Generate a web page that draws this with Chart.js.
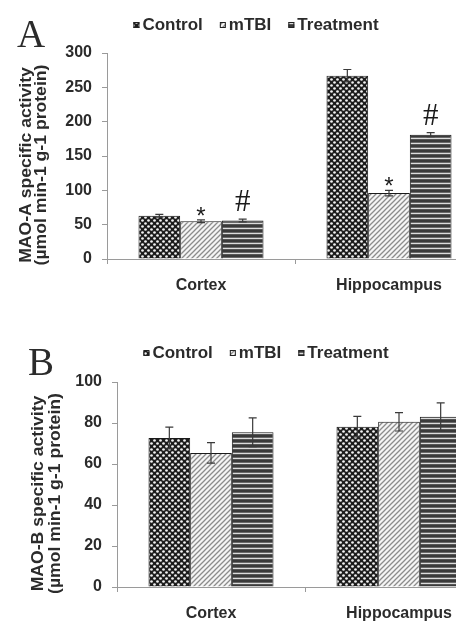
<!DOCTYPE html>
<html>
<head>
<meta charset="utf-8">
<title>MAO-A and MAO-B specific activity</title>
<style>
  html, body { margin: 0; padding: 0; width: 456px; height: 621px; overflow: hidden; background: #fff; }
  canvas { position: absolute; left: 0; }
  #maoA { top: 0; }
  #maoB { top: 310px; }
</style>
<script src="https://cdn.jsdelivr.net/npm/chart.js@4.4.1/dist/chart.umd.min.js"></script>
</head>
<body>
<canvas id="maoA" width="500" height="310"></canvas>
<canvas id="maoB" width="510" height="311"></canvas>
<script>
// ---- data ----
const categories = ['Cortex', 'Hippocampus'];
const groups = ['Control', 'mTBI', 'Treatment'];

// Panel A: MAO-A specific activity (mean and SEM)
const maoAControl = [63, 267];
const maoAControlSem = [2, 9];
const maoAMtbi = [55, 96];
const maoAMtbiSem = [2, 4];
const maoATreatment = [56, 181];
const maoATreatmentSem = [2, 3];
const maoAMtbiMarks = ['*', '*'];
const maoATreatmentMarks = ['#', '#'];
const maoATicks = { min: 0, max: 300, step: 50 };
const maoATitle = ['MAO-A specific activity', '(µmol min-1 g-1 protein)'];

// Panel B: MAO-B specific activity (mean and SEM)
const maoBControl = [72.7, 78.2];
const maoBControlSem = [5.3, 5];
const maoBMtbi = [65.4, 80.6];
const maoBMtbiSem = [5, 4.5];
const maoBTreatment = [75.5, 83];
const maoBTreatmentSem = [7, 6.8];
const maoBTicks = { min: 0, max: 100, step: 20 };
const maoBTitle = ['MAO-B specific activity', '(µmol min-1 g-1 protein)'];

// ---- fill patterns ----
function makePattern(ctx, w, h, paint) {
  const c = document.createElement('canvas');
  c.width = w; c.height = h;
  paint(c.getContext('2d'), w, h);
  return ctx.createPattern(c, 'repeat');
}
function patternsFor(ctx) {
  const dots = makePattern(ctx, 6, 6, (g, w, h) => {
    g.fillStyle = '#1c1c1c'; g.fillRect(0, 0, w, h);
    g.fillStyle = '#f2f2f2';
    [[1.5, 1.5], [4.5, 4.5]].forEach(([x, y]) => { g.beginPath(); g.arc(x, y, 1.35, 0, Math.PI * 2); g.fill(); });
  });
  const hatch = makePattern(ctx, 5, 5, (g, w, h) => {
    g.fillStyle = '#f5f5f5'; g.fillRect(0, 0, w, h);
    g.strokeStyle = '#8c8c8c'; g.lineWidth = 1.3;
    g.beginPath();
    g.moveTo(0, h); g.lineTo(w, 0);
    g.moveTo(-1, 1); g.lineTo(1, -1);
    g.moveTo(w - 1, h + 1); g.lineTo(w + 1, h - 1);
    g.stroke();
  });
  const stripes = makePattern(ctx, 4, 5, (g, w) => {
    ['#3a3a3a', '#3a3a3a', '#6a6a6a', '#dcdcdc', '#555555'].forEach((c, i) => { g.fillStyle = c; g.fillRect(0, i, w, 1); });
  });
  return [dots, hatch, stripes];
}

// ---- plugins ----
const FONT = '"Liberation Sans", Arial, sans-serif';
const INK = '#2b2b2b';

const errorBars = {
  id: 'errorBars',
  afterDatasetsDraw(chart, args, opts) {
    const { ctx } = chart; const y = chart.scales.y;
    ctx.save();
    ctx.strokeStyle = opts.color; ctx.lineWidth = opts.width;
    chart.data.datasets.forEach((ds, di) => {
      chart.getDatasetMeta(di).data.forEach((bar, i) => {
        const v = ds.data[i], e = ds.errors[i];
        const top = y.getPixelForValue(v + e), bot = y.getPixelForValue(v - e);
        ctx.beginPath();
        ctx.moveTo(bar.x, top); ctx.lineTo(bar.x, bot);
        ctx.moveTo(bar.x - opts.cap, top); ctx.lineTo(bar.x + opts.cap, top);
        ctx.moveTo(bar.x - opts.cap, bot); ctx.lineTo(bar.x + opts.cap, bot);
        ctx.stroke();
      });
    });
    ctx.restore();
  }
};

const sigMarks = {
  id: 'sigMarks',
  afterDatasetsDraw(chart, args, opts) {
    const { ctx } = chart; const y = chart.scales.y;
    ctx.save();
    ctx.fillStyle = opts.color; ctx.textAlign = 'center'; ctx.textBaseline = 'alphabetic';
    chart.data.datasets.forEach((ds, di) => {
      if (!ds.marks) return;
      chart.getDatasetMeta(di).data.forEach((bar, i) => {
        const m = ds.marks[i]; if (!m) return;
        const style = opts.styles[m];
        const top = y.getPixelForValue(ds.data[i] + ds.errors[i]);
        ctx.font = style.font;
        ctx.fillText(m, bar.x, top - style.gap);
      });
    });
    ctx.restore();
  }
};

const legendRow = {
  id: 'legendRow',
  afterDraw(chart, args, opts) {
    const { ctx } = chart;
    ctx.save();
    ctx.font = opts.font; ctx.textBaseline = 'middle'; ctx.textAlign = 'left';
    const items = chart.data.datasets.map(ds => ({ text: ds.label, fill: ds.backgroundColor, w: ctx.measureText(ds.label).width }));
    const total = items.reduce((s, it) => s + opts.box + opts.gap + it.w, 0) + opts.spacing * (items.length - 1);
    let x = chart.chartArea.left + opts.center - total / 2;
    const yc = opts.y;
    items.forEach(it => {
      ctx.fillStyle = it.fill;
      ctx.fillRect(x, yc - opts.box / 2, opts.box, opts.box);
      ctx.strokeStyle = '#222'; ctx.lineWidth = 1;
      ctx.strokeRect(x + 0.5, yc - opts.box / 2 + 0.5, opts.box - 1, opts.box - 1);
      x += opts.box + opts.gap;
      ctx.fillStyle = opts.color;
      ctx.fillText(it.text, x, yc);
      x += it.w + opts.spacing;
    });
    ctx.restore();
  }
};

const yTitle = {
  id: 'yTitle',
  afterDraw(chart, args, opts) {
    const { ctx, chartArea } = chart;
    const cy = (chartArea.top + chartArea.bottom) / 2 + opts.shift;
    ctx.save();
    ctx.font = opts.font; ctx.fillStyle = opts.color; ctx.textAlign = 'center'; ctx.textBaseline = 'middle';
    opts.lines.forEach((line, k) => {
      ctx.save();
      ctx.translate(chartArea.left - opts.offsets[k], cy);
      ctx.rotate(-Math.PI / 2);
      ctx.scale(opts.stretch, 1);
      ctx.fillText(line, 0, 0);
      ctx.restore();
    });
    ctx.restore();
  }
};

const panelLetter = {
  id: 'panelLetter',
  afterDraw(chart, args, opts) {
    const { ctx } = chart;
    ctx.save();
    ctx.font = opts.font; ctx.fillStyle = opts.color; ctx.textBaseline = 'alphabetic';
    ctx.fillText(opts.text, opts.x, opts.y);
    ctx.restore();
  }
};

// ---- chart builder ----
function buildPanel(id, cfg) {
  const canvas = document.getElementById(id);
  const ctx = canvas.getContext('2d');
  const fills = patternsFor(ctx);
  const series = [
    { values: cfg.control, sem: cfg.controlSem, marks: null },
    { values: cfg.mtbi, sem: cfg.mtbiSem, marks: cfg.mtbiMarks },
    { values: cfg.treatment, sem: cfg.treatmentSem, marks: cfg.treatmentMarks }
  ];
  const tickFont = { family: FONT, size: 16, weight: 'bold' };
  return new Chart(ctx, {
    type: 'bar',
    data: {
      labels: categories,
      datasets: series.map((s, k) => ({
        label: groups[k],
        data: s.values,
        errors: s.sem,
        marks: s.marks,
        backgroundColor: fills[k],
        borderColor: '#1a1a1a',
        borderWidth: 1,
        categoryPercentage: 0.665,
        barPercentage: 1.0
      }))
    },
    options: {
      responsive: false,
      devicePixelRatio: 1,
      animation: false,
      events: [],
      layout: { padding: { left: 0, right: 17, top: cfg.top, bottom: cfg.bottom } },
      scales: {
        x: {
          grid: { display: true, drawOnChartArea: false, drawTicks: true, tickLength: 5, color: '#9a9a9a', offset: true },
          border: { color: '#9a9a9a', width: 1 },
          ticks: { font: tickFont, color: INK, padding: 12 },
          afterFit(s) { s.height = cfg.xHeight; }
        },
        y: {
          min: cfg.ticks.min, max: cfg.ticks.max,
          grid: { display: true, drawOnChartArea: false, drawTicks: true, tickLength: 5, color: '#9a9a9a' },
          border: { color: '#9a9a9a', width: 1 },
          ticks: { stepSize: cfg.ticks.step, font: tickFont, color: INK, padding: 10 },
          afterFit(s) { s.width = cfg.axisX; }
        }
      },
      plugins: {
        legend: { display: false },
        tooltip: { enabled: false },
        errorBars: { color: '#3a3a3a', width: 1.2, cap: 4 },
        sigMarks: {
          color: '#1a1a1a',
          styles: {
            '*': { font: '24px ' + FONT, gap: -4 },
            '#': { font: '31px "Liberation Serif", "Times New Roman", serif', gap: 8 }
          }
        },
        legendRow: { font: 'bold 17px ' + FONT, color: INK, box: 6, gap: 3, spacing: 17, center: 149, y: cfg.legendY },
        yTitle: { lines: cfg.title, font: 'bold 16px ' + FONT, color: INK, offsets: cfg.titleOffsets, shift: 9, stretch: 1.1 },
        panelLetter: { text: cfg.letter, font: '39px "Liberation Serif", "Times New Roman", serif', color: INK, x: cfg.letterX, y: cfg.letterY }
      }
    },
    plugins: [errorBars, sigMarks, legendRow, yTitle, panelLetter]
  });
}

buildPanel('maoA', {
  control: maoAControl, controlSem: maoAControlSem,
  mtbi: maoAMtbi, mtbiSem: maoAMtbiSem, mtbiMarks: maoAMtbiMarks,
  treatment: maoATreatment, treatmentSem: maoATreatmentSem, treatmentMarks: maoATreatmentMarks,
  ticks: maoATicks, title: maoATitle, titleOffsets: [80, 65], letter: 'A',
  axisX: 107, top: 53, bottom: 11, xHeight: 40,
  legendY: 25, letterX: 17, letterY: 47
});

buildPanel('maoB', {
  control: maoBControl, controlSem: maoBControlSem,
  mtbi: maoBMtbi, mtbiSem: maoBMtbiSem, mtbiMarks: null,
  treatment: maoBTreatment, treatmentSem: maoBTreatmentSem, treatmentMarks: null,
  ticks: maoBTicks, title: maoBTitle, titleOffsets: [78, 61], letter: 'B',
  axisX: 117, top: 72, bottom: 0, xHeight: 34,
  legendY: 43, letterX: 28, letterY: 65
});
</script>
</body>
</html>
